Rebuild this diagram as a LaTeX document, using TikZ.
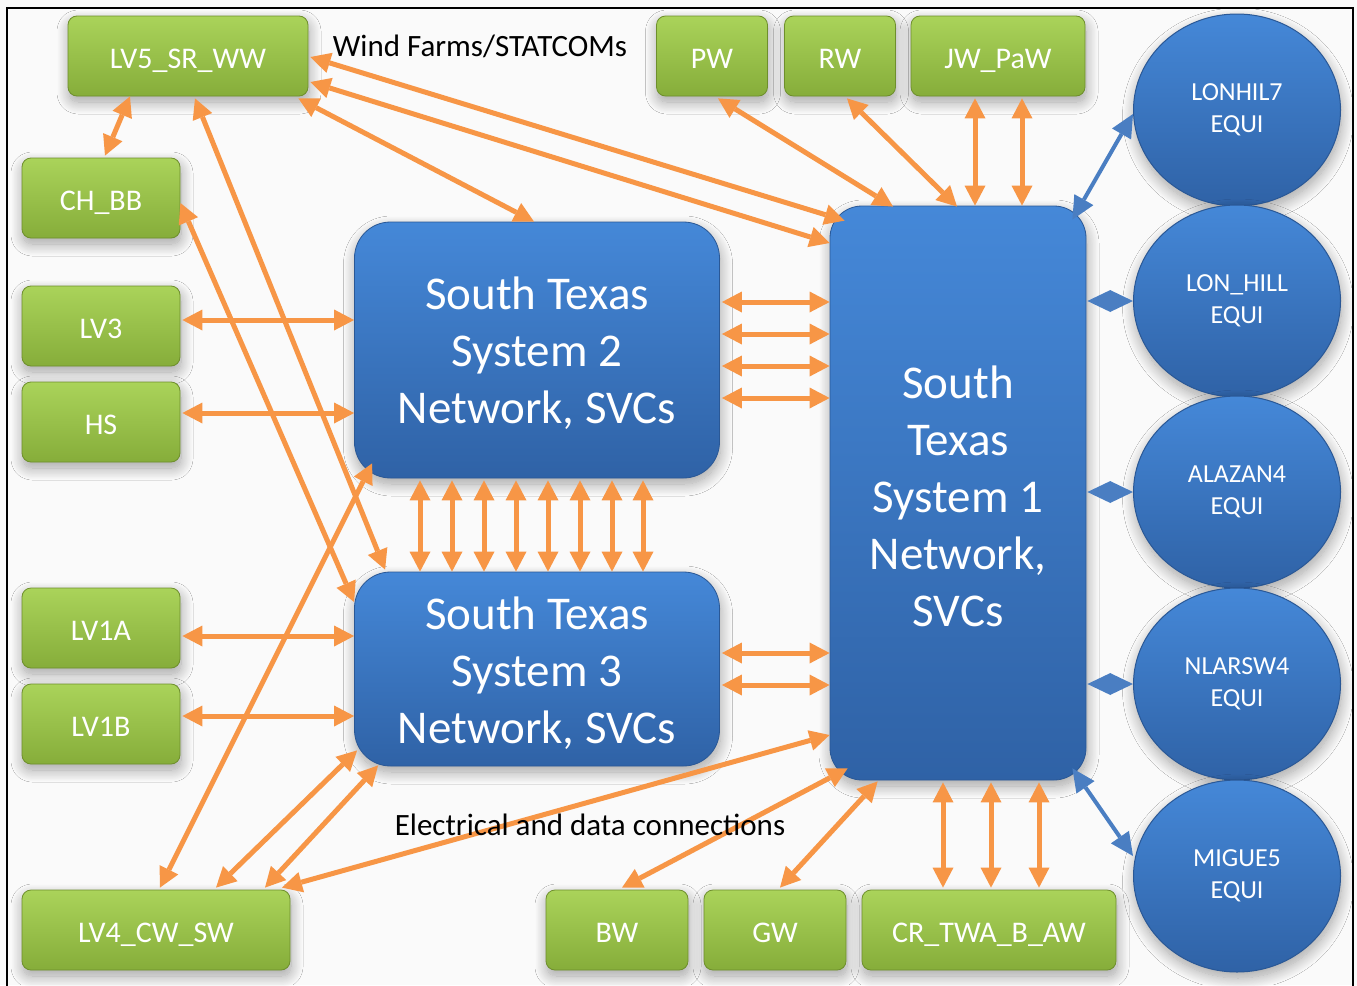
\documentclass[tikz,border=0pt]{standalone}
\usepackage{fontspec}
\setmainfont{Carlito}
\usetikzlibrary{arrows.meta,shapes.geometric,shadows.blur}

\definecolor{linkorange}{HTML}{F79646}
\definecolor{linkblue}{HTML}{4A7EC2}
\definecolor{gtop}{HTML}{AAD35A}
\definecolor{gbot}{HTML}{86AD3A}
\definecolor{gedge}{HTML}{6E8F2C}
\definecolor{btop}{HTML}{4588D8}
\definecolor{bbot}{HTML}{2F62A6}
\definecolor{bedge}{HTML}{2A5896}

% extra room above the first line of a system block label
\newcommand{\firstlinepad}{\rule{0pt}{40pt}}

\tikzset{
  otip/.tip={Triangle[length=20pt,width=21pt,line width=0pt]},
  btip/.tip={Triangle[length=23pt,width=22pt,line width=0pt]},
  softshadow/.style={blur shadow={shadow xshift=1pt, shadow yshift=-6pt,
      shadow blur radius=12pt, shadow blur steps=16, shadow opacity=35}},
  greenbox/.style={rectangle, rounded corners=9pt, minimum height=80pt,
      inner sep=0pt, top color=gtop, bottom color=gbot, draw=gedge,
      line width=0.8pt, text=white, softshadow, text height=24pt, text depth=0pt,
      font=\fontsize{30}{32}\selectfont},
  sysbox/.style={rectangle, rounded corners=36pt, inner sep=0pt,
      top color=btop, bottom color=bbot, draw=bedge, line width=0.8pt,
      text=white, align=center, softshadow,
      font=\fontsize{47}{57}\selectfont},
  equiball/.style={ellipse, minimum width=207pt, minimum height=192pt,
      inner sep=0pt, top color=btop, bottom color=bbot, draw=bedge,
      line width=1pt, text=white, align=center, softshadow,
      font=\fontsize{26}{32}\selectfont},
  oa/.style={draw=linkorange, line width=5pt, arrows={otip-otip}},
  ba/.style={draw=linkblue, line width=4pt, arrows={btip-btip}},
  lbl/.style={text=black, inner sep=0pt, font=\fontsize{31}{34}\selectfont}
}

\begin{document}
\begin{tikzpicture}[x=1pt,y=-1pt]
\useasboundingbox (0,0) rectangle (1357,985);
\fill[white!98!black] (0,0) rectangle (1357,985);
\draw[line width=1.5pt] (7,990) -- (7,8) -- (1353,8) -- (1353,990);

% system blocks
\node[sysbox, minimum width=365pt, minimum height=256pt] (st2) at (537,350)
  {\firstlinepad South Texas\\System 2\\Network, SVCs};
\node[sysbox, minimum width=365pt, minimum height=194pt] (st3) at (537,669)
  {\firstlinepad South Texas\\System 3\\Network, SVCs};
\node[sysbox, rounded corners=32pt, minimum width=256pt, minimum height=574pt] (st1) at (958,493)
  {\firstlinepad South\\Texas\\System 1\\Network,\\SVCs};

% wind farms / STATCOMs
\node[greenbox, minimum width=240pt] (lv5) at (188,56) {LV5\_SR\_WW};
\node[greenbox, minimum width=158pt] (chbb) at (101,198) {CH\_BB};
\node[greenbox, minimum width=158pt] (lv3) at (101,326) {LV3};
\node[greenbox, minimum width=158pt] (hs) at (101,422) {HS};
\node[greenbox, minimum width=158pt] (lv1a) at (101,628) {LV1A};
\node[greenbox, minimum width=158pt] (lv1b) at (101,724) {LV1B};
\node[greenbox, minimum width=268pt] (lv4) at (156,930) {LV4\_CW\_SW};
\node[greenbox, minimum width=142pt] (bw) at (617,930) {BW};
\node[greenbox, minimum width=142pt] (gw) at (775,930) {GW};
\node[greenbox, minimum width=254pt] (cr) at (989,930) {CR\_TWA\_B\_AW};
\node[greenbox, minimum width=111pt] (pw) at (712,56) {PW};
\node[greenbox, minimum width=111pt] (rw) at (840,56) {RW};
\node[greenbox, minimum width=174pt] (jw) at (998,56) {JW\_PaW};

% equivalents
\node[equiball] (b1) at (1237,110) {LONHIL7\\EQUI};
\node[equiball] (b2) at (1237,301) {LON\_HILL\\EQUI};
\node[equiball] (b3) at (1237,492) {ALAZAN4\\EQUI};
\node[equiball] (b4) at (1237,684) {NLARSW4\\EQUI};
\node[equiball] (b5) at (1237,876) {MIGUE5\\EQUI};

% links at the top left
\draw[oa] ([xshift=-58pt]lv5.south) -- ([xshift=4pt,yshift=2pt]chbb.north);
\draw[oa] ([xshift=7pt,yshift=-2pt]lv5.south) -- ([xshift=31pt,yshift=2pt]st3.north west);
\draw[oa] ([yshift=-5pt]chbb.east) -- (st3.west |- 0,602);
\draw[oa] ([xshift=-10pt,yshift=-2pt]lv5.south east) -- ([xshift=-3pt]st2.north);
\draw[oa] ([xshift=2pt,yshift=-1pt]lv5.east) -- ([xshift=15pt,yshift=-15pt]st1.north west);
\draw[oa] ([xshift=2pt]lv5.east |- 0,82) -- (st1.west |- 0,243);

% links at the top right
\draw[oa] ([xshift=6pt,yshift=-2pt]pw.south) -- ([xshift=-65pt,yshift=-1pt]st1.north);
\draw[oa] ([xshift=7pt,yshift=-2pt]rw.south) -- ([xshift=-1pt,yshift=-1pt]st1.north);
\draw[oa] ([xshift=-23pt,yshift=-2pt]jw.south) -- ([xshift=-23pt]jw.south |- st1.north);
\draw[oa] ([xshift=24pt,yshift=-2pt]jw.south) -- ([xshift=24pt]jw.south |- st1.north);

% left column
\draw[oa] ([xshift=2pt]lv3.east |- 0,320) -- (st2.west |- 0,320);
\draw[oa] ([xshift=2pt]hs.east |- 0,413) -- (st2.west |- 0,413);
\draw[oa] ([xshift=2pt]lv1a.east |- 0,636) -- (st3.west |- 0,636);
\draw[oa] ([xshift=2pt]lv1b.east |- 0,716) -- (st3.west |- 0,716);

% between the system blocks
\foreach \dx in {-117,-85,-53,-21,11,43,75,106}
  \draw[oa] ([xshift=\dx pt,yshift=-2pt]st2.south) -- ([xshift=\dx pt]st3.north);
\foreach \yy in {302,334,366,398}
  \draw[oa] ([xshift=2pt]st2.east |- 0,\yy) -- (st1.west |- 0,\yy);
\foreach \yy in {653,685}
  \draw[oa] ([xshift=2pt]st3.east |- 0,\yy) -- (st1.west |- 0,\yy);

% links at the bottom
\draw[oa] ([xshift=4pt,yshift=2pt]lv4.north) -- ([xshift=18pt,yshift=15pt]st2.south west);
\draw[oa] ([xshift=60pt,yshift=2pt]lv4.north) -- ([xshift=3pt,yshift=16pt]st3.south west);
\draw[oa] ([xshift=109pt,yshift=2pt]lv4.north) -- ([xshift=24pt,yshift=1pt]st3.south west);
\draw[oa] ([xshift=126pt,yshift=2pt]lv4.north) -- (st1.west |- 0,735);
\draw[oa] ([xshift=5pt,yshift=2pt]bw.north) -- ([xshift=18pt,yshift=12pt]st1.south west);
\draw[oa] ([xshift=5pt,yshift=2pt]gw.north) -- ([xshift=48pt,yshift=-1pt]st1.south west);
\foreach \dx in {-46,2,50}
  \draw[oa] ([xshift=\dx pt,yshift=2pt]cr.north) -- ([xshift=\dx pt,yshift=-2pt]cr.north |- st1.south);

% links to the equivalents
\draw[ba] ([yshift=-4pt]b1.west) -- ([xshift=-14pt,yshift=-14pt]st1.north east);
\draw[ba] ([xshift=1pt]st1.east |- b2.west) -- (b2.west);
\draw[ba] ([xshift=1pt]st1.east |- b3.west) -- (b3.west);
\draw[ba] ([xshift=1pt]st1.east |- b4.west) -- (b4.west);
\draw[ba] ([yshift=20pt]b5.west) -- ([xshift=-14pt,yshift=12pt]st1.south east);

% captions
\node[lbl] (windlbl) at (480,46) {Wind Farms/STATCOMs};
\node[lbl] (connlbl) at (590,825) {Electrical and data connections};
\end{tikzpicture}
\end{document}
